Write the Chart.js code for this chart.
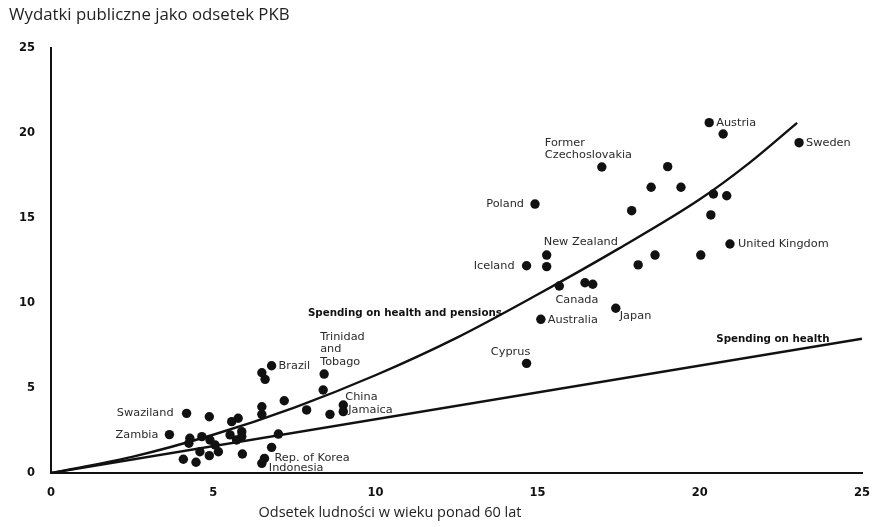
<!DOCTYPE html>
<html>
<head>
<meta charset="utf-8">
<script src="https://cdn.jsdelivr.net/npm/chart.js@4.4.1/dist/chart.umd.min.js"></script>
<style>
  html, body { margin: 0; padding: 0; background: #fff; }
  #chart { display: block; }
</style>
</head>
<body>
<canvas id="chart" width="876" height="527"></canvas>
<script>
// labelled countries: share of population aged 60+ (%) and public spending (% of GDP)
const countries = ['Austria', 'Sweden', 'Former Czechoslovakia', 'Poland', 'United Kingdom',
  'New Zealand', 'Iceland', 'Canada', 'Australia', 'Japan', 'Cyprus', 'Brazil',
  'Trinidad and Tobago', 'China', 'Jamaica', 'Swaziland', 'Zambia', 'Rep. of Korea', 'Indonesia'];
const countryAged = [20.29, 23.06, 16.98, 14.92, 20.93, 15.28, 14.66, 16.46, 15.10, 17.41, 14.66,
  6.80, 8.42, 9.01, 9.01, 4.18, 3.65, 6.58, 6.50];
const countrySpending = [20.61, 19.43, 18.00, 15.82, 13.47, 12.82, 12.19, 11.19, 9.04, 9.69, 6.45,
  6.31, 5.82, 4.00, 3.61, 3.51, 2.26, 0.86, 0.57];

// the remaining countries, drawn without names
const otherAged = [20.72, 19.01, 18.50, 19.42, 20.42, 20.83, 17.90, 20.34, 15.28, 18.10, 18.62, 20.03,
  15.67, 16.70,
  6.50, 6.60, 8.39, 7.19, 6.50, 6.50, 7.88, 8.60, 4.88, 5.57, 5.77, 4.28, 4.25, 4.65, 4.90, 5.06,
  5.16, 4.59, 5.52, 5.72, 5.88, 5.88, 7.01, 6.80, 4.08, 4.47, 4.88, 5.90];
const otherSpending = [19.94, 18.02, 16.81, 16.81, 16.41, 16.31, 15.43, 15.18, 12.14, 12.24, 12.82, 12.82,
  11.00, 11.10,
  5.90, 5.51, 4.88, 4.25, 3.90, 3.45, 3.71, 3.45, 3.31, 3.02, 3.22, 2.04, 1.75, 2.14, 1.94, 1.65,
  1.25, 1.25, 2.24, 1.94, 2.43, 2.14, 2.29, 1.51, 0.81, 0.63, 1.02, 1.12];

// trend lines
const pensionsX = [0, 2.5, 5, 7.5, 10, 12.5, 15, 17.5, 20, 21.5, 23];
const pensionsY = [0, 0.95, 2.25, 3.85, 5.75, 7.95, 10.5, 13.2, 16.1, 18.2, 20.6];
const healthX = [0, 25];
const healthY = [0, 7.9];

const xTicks = [0, 5, 10, 15, 20, 25];
const yTicks = [0, 5, 10, 15, 20, 25];

const yTitle = 'Wydatki publiczne jako odsetek PKB';
const xTitle = 'Odsetek ludności w wieku ponad 60 lat';

// where each country name sits relative to its dot (px)
const namePlacement = {
  'Austria':               { dx: 7,   dy: 0,   align: 'left' },
  'Sweden':                { dx: 7,   dy: 0,   align: 'left' },
  'Former Czechoslovakia': { dx: -57, dy: -24, align: 'left', lines: ['Former', 'Czechoslovakia'] },
  'Poland':                { dx: -11, dy: 0,   align: 'right' },
  'United Kingdom':        { dx: 8,   dy: 0,   align: 'left' },
  'New Zealand':           { dx: -3,  dy: -13, align: 'left' },
  'Iceland':               { dx: -12, dy: 0,   align: 'right' },
  'Canada':                { dx: -8,  dy: 17,  align: 'center' },
  'Australia':             { dx: 7,   dy: 1,   align: 'left' },
  'Japan':                 { dx: 4,   dy: 8,   align: 'left' },
  'Cyprus':                { dx: -16, dy: -11, align: 'center' },
  'Brazil':                { dx: 7,   dy: 0,   align: 'left' },
  'Trinidad and Tobago':   { dx: -4,  dy: -37, align: 'left', lines: ['Trinidad', 'and', 'Tobago'] },
  'China':                 { dx: 2,   dy: -8,  align: 'left' },
  'Jamaica':               { dx: 5,   dy: -2,  align: 'left' },
  'Swaziland':             { dx: -13, dy: 0,   align: 'right' },
  'Zambia':                { dx: -11, dy: 0,   align: 'right' },
  'Rep. of Korea':         { dx: 10,  dy: 0,   align: 'left' },
  'Indonesia':             { dx: 7,   dy: 5,   align: 'left' }
};

// captions for the two trend lines, right end anchored in data units
const lineCaptions = [
  { text: 'Spending on health and pensions', x: 13.9, y: 9.41 },
  { text: 'Spending on health', x: 24.0, y: 7.88 }
];

const toPoints = (xs, ys) => xs.map((x, i) => ({ x, y: ys[i] }));

const countryNames = {
  id: 'countryNames',
  afterDatasetsDraw(chart) {
    const ctx = chart.ctx;
    const meta = chart.getDatasetMeta(0);
    ctx.save();
    ctx.fillStyle = '#2a2a2a';
    ctx.font = '11.3px "DejaVu Sans"';
    ctx.textBaseline = 'middle';
    meta.data.forEach((pt, i) => {
      const name = countries[i];
      const p = namePlacement[name];
      const lines = p.lines || [name];
      ctx.textAlign = p.align;
      lines.forEach((ln, k) => ctx.fillText(ln, pt.x + p.dx, pt.y + p.dy + k * 12.5));
    });

    ctx.font = 'bold 10.3px "DejaVu Sans"';
    ctx.fillStyle = '#111';
    ctx.textAlign = 'right';
    const xs = chart.scales.x, ys = chart.scales.y;
    lineCaptions.forEach(c => {
      ctx.fillText(c.text, xs.getPixelForValue(c.x), ys.getPixelForValue(c.y));
    });

    // axis captions
    ctx.fillStyle = '#222';
    ctx.font = '16.8px "Open Sans"';
    ctx.textAlign = 'left';
    ctx.fillText(yTitle, 9, 15);
    ctx.font = '14.5px "Open Sans"';
    ctx.textAlign = 'center';
    ctx.fillText(xTitle, 390, 513);
    ctx.restore();
  }
};

const tickFont = { family: '"DejaVu Sans"', weight: 'bold', size: 11.5 };

const ctx = document.getElementById('chart').getContext('2d');
new Chart(ctx, {
  type: 'scatter',
  data: {
    datasets: [
      {
        label: 'countries',
        data: toPoints(countryAged, countrySpending),
        backgroundColor: '#111',
        borderWidth: 0,
        pointRadius: 4.7
      },
      {
        label: 'other countries',
        data: toPoints(otherAged, otherSpending),
        backgroundColor: '#111',
        borderWidth: 0,
        pointRadius: 4.7
      },
      {
        label: 'Spending on health and pensions',
        type: 'line',
        data: toPoints(pensionsX, pensionsY),
        borderColor: '#111',
        borderWidth: 2.4,
        pointRadius: 0,
        cubicInterpolationMode: 'monotone',
        fill: false
      },
      {
        label: 'Spending on health',
        type: 'line',
        data: toPoints(healthX, healthY),
        borderColor: '#111',
        borderWidth: 2.4,
        pointRadius: 0,
        fill: false
      }
    ]
  },
  options: {
    responsive: false,
    animation: false,
    devicePixelRatio: 1,
    layout: { padding: { top: 48, right: 14, left: 0, bottom: 0 } },
    plugins: { legend: { display: false }, tooltip: { enabled: false } },
    scales: {
      x: {
        type: 'linear',
        min: 0, max: 25,
        afterBuildTicks: s => { s.ticks = xTicks.map(v => ({ value: v })); },
        afterFit: s => { s.height = 54; s.paddingLeft = 0; s.paddingRight = 0; },
        grid: { display: false, drawTicks: false },
        border: { display: true, color: '#111', width: 2 },
        ticks: { padding: 13, color: '#111', font: tickFont }
      },
      y: {
        type: 'linear',
        min: 0, max: 25,
        afterBuildTicks: s => { s.ticks = yTicks.map(v => ({ value: v })); },
        afterFit: s => { s.width = 51; s.paddingTop = 0; s.paddingBottom = 0; },
        grid: { display: false, drawTicks: false },
        border: { display: true, color: '#111', width: 2 },
        ticks: { padding: 16, color: '#111', font: tickFont }
      }
    }
  },
  plugins: [countryNames]
});
</script>
</body>
</html>
